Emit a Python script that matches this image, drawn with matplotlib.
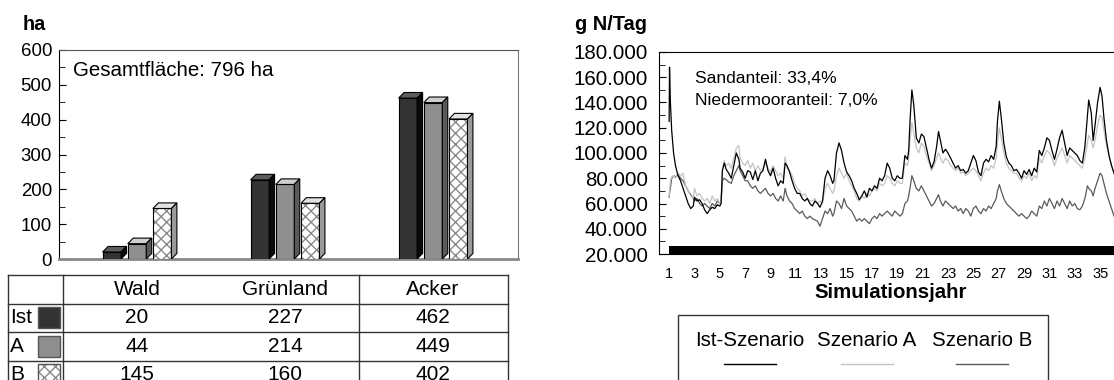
import numpy as np
import matplotlib
matplotlib.use('Agg')
import matplotlib.pyplot as plt
from matplotlib.patches import Polygon, Rectangle
from matplotlib.lines import Line2D
from matplotlib.ticker import MultipleLocator, FuncFormatter

plt.rcParams['font.family'] = ['Liberation Sans', 'DejaVu Sans']
plt.rcParams['hatch.linewidth'] = 1.0

# ---- left: land use per scenario (ha)
categories = ['Wald', 'Grünland', 'Acker']
scenarios = ['Ist', 'A', 'B']
area_ist = [20, 227, 462]
area_a = [44, 214, 449]
area_b = [145, 160, 402]
total_area = 796

# ---- right: N load (1000 g N/Tag) per simulation year
years = [1.0, 1.03, 1.1, 1.2, 1.35, 1.5, 1.7, 1.9, 2.1, 2.3, 2.5, 2.7, 2.9,
         3.0, 3.2, 3.4, 3.6, 3.8, 4.0, 4.2, 4.4, 4.6, 4.8, 5.0, 5.1,
         5.2, 5.35, 5.5, 5.7, 5.9, 6.1, 6.3, 6.5, 6.6, 6.8,
         7.0, 7.2, 7.4, 7.6, 7.8, 8.0, 8.2, 8.4, 8.6, 8.8,
         9.0, 9.2, 9.4, 9.6, 9.8, 10.0, 10.15, 10.3, 10.5, 10.7, 10.9,
         11.1, 11.3, 11.5, 11.7, 11.9, 12.1, 12.3, 12.5, 12.7, 12.9,
         13.1, 13.3, 13.5, 13.7, 13.9, 14.0, 14.2, 14.4, 14.6, 14.8,
         15.0, 15.2, 15.4, 15.6, 15.8, 16.0, 16.2, 16.4, 16.6, 16.8,
         17.0, 17.2, 17.4, 17.6, 17.8, 18.0, 18.2, 18.4, 18.6, 18.8,
         19.0, 19.2, 19.4, 19.6, 19.8, 19.9, 20.0, 20.15, 20.3, 20.5, 20.7, 20.9,
         21.1, 21.3, 21.5, 21.7, 21.9, 22.1, 22.25, 22.4, 22.6, 22.8,
         23.0, 23.2, 23.4, 23.6, 23.8, 24.0, 24.2, 24.4, 24.6, 24.8,
         25.0, 25.2, 25.4, 25.6, 25.8, 26.0, 26.2, 26.4, 26.6, 26.8, 26.9,
         27.05, 27.2, 27.4, 27.6, 27.8, 28.0, 28.2, 28.4, 28.6, 28.8,
         29.0, 29.2, 29.4, 29.6, 29.8, 30.0, 30.2, 30.4, 30.6, 30.8,
         31.0, 31.2, 31.4, 31.6, 31.8, 32.0, 32.2, 32.4, 32.6, 32.8,
         33.0, 33.2, 33.4, 33.6, 33.8, 34.0, 34.1, 34.3, 34.45, 34.6, 34.8,
         35.0, 35.15, 35.3, 35.5, 35.7, 35.9, 36.1, 36.3, 36.6, 37.0]

n_ist = [125, 168, 140, 118, 100, 90, 82, 78, 72, 66, 60, 56, 58,
         65, 62, 63, 60, 55, 52, 55, 57, 56, 59, 58, 60,
         86, 92, 87, 84, 80, 90, 100, 95, 88, 85,
         80, 86, 85, 79, 86, 78, 84, 86, 95, 86,
         82, 88, 80, 74, 78, 76, 92, 90, 85, 78, 72,
         68, 68, 64, 62, 64, 60, 58, 62, 60, 57,
         62, 80, 86, 82, 76, 78, 100, 108, 102, 92,
         85, 82, 78, 72, 68, 63, 66, 70, 65, 72,
         70, 74, 72, 80, 78, 82, 92, 88, 80, 78,
         82, 80, 80, 98, 95, 102, 125, 150, 138, 112, 108, 115,
         113, 104, 95, 88, 93, 105, 117, 110, 100, 103,
         100, 96, 92, 88, 90, 86, 87, 84, 86, 92,
         98, 94, 85, 82, 92, 95, 93, 98, 95, 105, 125,
         141, 128, 108, 97, 92, 90, 86, 87, 84, 80,
         86, 83, 87, 82, 88, 85, 102, 98, 104, 112,
         110, 102, 95, 103, 112, 118, 108, 98, 104, 102,
         100, 98, 94, 92, 105, 130, 142, 132, 110, 122, 140,
         152, 145, 128, 110, 98, 90, 84, 78, 72, 68]

n_a = [66, 70, 78, 81, 82, 80, 84, 82, 84, 74, 70, 66, 64,
       72, 66, 68, 64, 62, 64, 60, 66, 62, 64, 60, 62,
       88, 94, 90, 92, 88, 96, 104, 106, 96, 92,
       90, 94, 88, 92, 86, 90, 86, 88, 92, 88,
       85, 90, 86, 82, 84, 80, 97, 88, 86, 82, 76,
       72, 70, 66, 68, 64, 62, 62, 64, 60, 62,
       60, 72, 76, 72, 68, 70, 82, 88, 84, 80,
       84, 78, 74, 70, 64, 62, 66, 64, 68, 66,
       70, 72, 70, 76, 74, 76, 82, 80, 76, 74,
       78, 76, 76, 92, 90, 96, 110, 124, 116, 104, 100, 108,
       105, 98, 92, 86, 90, 96, 100, 96, 92, 96,
       94, 90, 88, 86, 88, 84, 85, 82, 84, 86,
       88, 86, 82, 78, 84, 88, 86, 90, 88, 96, 108,
       120, 112, 100, 92, 88, 86, 84, 84, 80, 78,
       82, 80, 84, 78, 82, 80, 96, 92, 98, 102,
       100, 96, 90, 96, 100, 104, 98, 92, 98, 96,
       94, 92, 90, 88, 96, 108, 114, 110, 104, 110, 122,
       130, 128, 118, 106, 98, 90, 84, 78, 72, 68]

n_b = [65, 68, 72, 80, 82, 81, 83, 80, 78, 74, 70, 67, 64,
       62, 64, 60, 58, 60, 58, 56, 60, 58, 62, 60, 62,
       78, 80, 79, 77, 76, 82, 86, 90, 86, 82,
       78, 78, 74, 72, 74, 70, 68, 70, 72, 68,
       66, 68, 64, 62, 66, 62, 72, 66, 62, 60, 56,
       54, 52, 54, 50, 48, 50, 48, 47, 46, 42,
       48, 54, 52, 56, 50, 52, 62, 60, 56, 64,
       58, 56, 54, 50, 46, 48, 46, 48, 46, 44,
       48, 50, 48, 52, 50, 52, 54, 52, 50, 54,
       52, 50, 52, 60, 62, 66, 72, 82, 78, 72, 70, 74,
       70, 66, 62, 58, 60, 64, 67, 62, 58, 62,
       60, 58, 56, 58, 54, 56, 52, 56, 54, 50,
       56, 58, 54, 52, 56, 54, 58, 56, 60, 64, 70,
       75, 70, 64, 60, 58, 56, 54, 52, 50, 52,
       50, 48, 50, 54, 52, 50, 58, 56, 62, 58,
       64, 60, 56, 62, 58, 64, 60, 56, 62, 58,
       60, 56, 55, 58, 64, 74, 72, 70, 66, 72, 78,
       84, 82, 76, 68, 62, 56, 50, 47, 45, 44]

band_years = [1.0, 40.0]   # black bar along the bottom
band_top = 26000
series_names = ['Ist-Szenario', 'Szenario A', 'Szenario B']
series_colors = ['black', '#c4c4c4', '#5a5a5a']

W, H = 1114, 380
fig = plt.figure(figsize=(W / 100, H / 100), dpi=100)


def fx(p):
    return p / W


def fy(p):
    return 1 - p / H


# ---------------- left chart
ax1 = fig.add_axes([fx(59), fy(259), fx(518 - 59), (259 - 50) / H])
xpos = np.arange(len(categories))
bar_w = 0.125
offsets = [-0.17, 0.0, 0.17]
dx, dy = 0.037, 16
styles = [('#333333', '#5c5c5c', '#0a0a0a', None),
          ('#8f8f8f', '#cfcfcf', '#5a5a5a', None),
          ('white', '#e2e2e2', '#9a9a9a', 'xxx')]
for vals, off, (front, top, side, hatch) in zip([area_ist, area_a, area_b], offsets, styles):
    if hatch:
        ax1.bar(xpos + off, vals, bar_w, color='white', edgecolor='#8a8a8a',
                hatch=hatch, lw=0, zorder=3)
        bars = ax1.bar(xpos + off, vals, bar_w, fill=False, edgecolor='black', lw=0.8, zorder=4)
    else:
        bars = ax1.bar(xpos + off, vals, bar_w, color=front, edgecolor='black', lw=0.8, zorder=3)
    for b in bars:
        x0 = b.get_x()
        x1 = x0 + b.get_width()
        h = b.get_height()
        ax1.add_patch(Polygon([[x0, h], [x0 + dx, h + dy], [x1 + dx, h + dy], [x1, h]],
                              facecolor=top, edgecolor='black', lw=0.8, zorder=4))
        ax1.add_patch(Polygon([[x1, 0], [x1, h], [x1 + dx, h + dy], [x1 + dx, dy]],
                              facecolor=side, edgecolor='black', lw=0.8, zorder=4))

ax1.set_xlim(-0.527, 2.574)
ax1.set_ylim(0, 600)
ax1.set_xticks([])
ax1.yaxis.set_major_locator(MultipleLocator(100))
ax1.yaxis.set_minor_locator(MultipleLocator(50))
ax1.tick_params(axis='y', which='both', direction='in', labelsize=13.4, pad=5)
ax1.tick_params(axis='y', which='major', length=5)
ax1.tick_params(axis='y', which='minor', length=4)
ax1.spines['bottom'].set_color('#888888')
ax1.spines['bottom'].set_linewidth(2)
ax1.spines['top'].set_color('#555555')
ax1.spines['right'].set_color('#777777')
ax1.text(0.0305, 0.904, f'Gesamtfläche: {total_area} ha', transform=ax1.transAxes,
         fontsize=14.8, va='center', ha='left')
fig.text(fx(34.5), fy(24), 'ha', fontsize=14.2, fontweight='bold', ha='center', va='center')

# ---------------- data table under the bars
row_h = 28.5
axt = fig.add_axes([fx(8), fy(275 + 4 * row_h), fx(508 - 8), 4 * row_h / H])
axt.set_xlim(-0.872, 2.507)
axt.set_ylim(4, 0)
axt.axis('off')
for r in range(5):
    axt.plot([-0.872, 2.507], [r, r], color='#333333', lw=1, clip_on=False)
for xv in [-0.872, -0.5, 1.5, 2.507]:
    axt.plot([xv, xv], [0, 4], color='#333333', lw=1, clip_on=False)
for i, c in enumerate(categories):
    axt.text(i, 0.5, c, ha='center', va='center', fontsize=15)
sq_styles = [('#333333', None), ('#8f8f8f', None), ('white', 'xxx')]
for r, (name, vals, (col, hatch)) in enumerate(zip(scenarios, [area_ist, area_a, area_b], sq_styles), start=1):
    axt.text(-0.858, r + 0.5, name, ha='left', va='center', fontsize=15)
    if hatch:
        axt.add_patch(Rectangle((-0.669, r + 0.14), 0.149, 0.72, facecolor='white',
                                edgecolor='#8a8a8a', hatch=hatch, lw=0))
        axt.add_patch(Rectangle((-0.669, r + 0.14), 0.149, 0.72, fill=False,
                                edgecolor='#555555', lw=1))
    else:
        axt.add_patch(Rectangle((-0.669, r + 0.14), 0.149, 0.72, facecolor=col,
                                edgecolor='#555555', lw=1))
    for i, v in enumerate(vals):
        axt.text(i, r + 0.5, str(v), ha='center', va='center', fontsize=15)

# ---------------- right chart
ax2 = fig.add_axes([fx(659), fy(254), fx(1163.5 - 659), (254 - 52) / H])
for yr_vals, col in zip([n_b, n_a, n_ist], series_colors[::-1]):
    ax2.plot(years, np.array(yr_vals) * 1000, color=col, lw=0.9)
ax2.fill_between(band_years, 20000, band_top, color='black', lw=0)
ax2.set_xlim(0.2, 40)
ax2.set_ylim(20000, 180000)
ax2.set_xticks(np.arange(1, 36, 2))
ax2.yaxis.set_major_locator(MultipleLocator(20000))
ax2.yaxis.set_minor_locator(MultipleLocator(10000))
ax2.yaxis.set_major_formatter(FuncFormatter(lambda v, p: f'{v:,.0f}'.replace(',', '.')))
ax2.tick_params(axis='y', which='both', direction='in', labelsize=14.8, pad=8)
ax2.tick_params(axis='y', which='major', length=5)
ax2.tick_params(axis='y', which='minor', length=4)
ax2.tick_params(axis='x', length=0, labelsize=10.5, pad=9)
ax2.set_xlabel('Simulationsjahr', fontsize=14.7, fontweight='bold', va='center')
ax2.xaxis.set_label_coords((891 - 659) / 504.5, -(292 - 254) / 202)
ax2.text(0.0714, 0.871, 'Sandanteil: 33,4%', transform=ax2.transAxes, fontsize=12.6, va='center')
ax2.text(0.0714, 0.762, 'Niedermooranteil: 7,0%', transform=ax2.transAxes, fontsize=12.6, va='center')
fig.text(fx(611), fy(25), 'g N/Tag', fontsize=14.4, fontweight='bold', ha='center', va='center')

# legend box below the chart
fig.add_artist(Rectangle((fx(678), fy(400)), fx(1048 - 678), (400 - 315) / H,
                         transform=fig.transFigure, fill=False, edgecolor='#333333', lw=1))
for name, col, cx in zip(series_names, series_colors, [750, 867, 982]):
    fig.text(fx(cx), fy(340), name, ha='center', va='center', fontsize=14.8)
    fig.add_artist(Line2D([fx(cx - 26), fx(cx + 26)], [fy(364), fy(364)],
                          transform=fig.transFigure, color=col, lw=1))

fig.savefig('out.png', dpi=100)
